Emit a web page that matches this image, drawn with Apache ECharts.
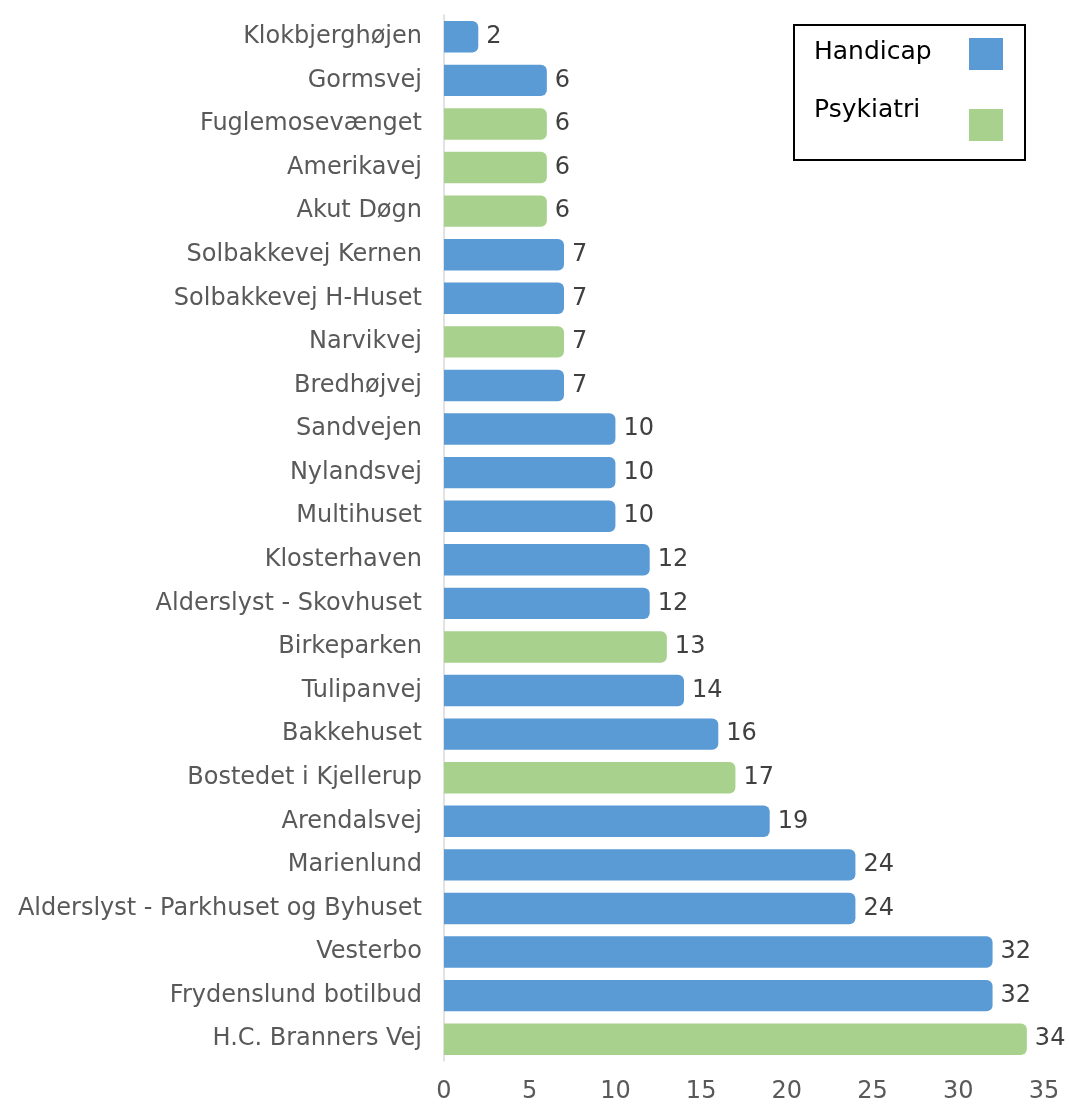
<!DOCTYPE html>
<html>
<head>
<meta charset="utf-8">
<script src="https://cdn.jsdelivr.net/npm/echarts@6/dist/echarts.min.js"></script>
<style>
html, body { margin: 0; padding: 0; background: #fff; }
#chart { width: 1069px; height: 1104px; }
</style>
</head>
<body>
<div id="chart"></div>
<script>
// kategorier oppefra og ned
var categories = ['Klokbjerghøjen', 'Gormsvej', 'Fuglemosevænget', 'Amerikavej', 'Akut Døgn',
    'Solbakkevej Kernen', 'Solbakkevej H-Huset', 'Narvikvej', 'Bredhøjvej', 'Sandvejen',
    'Nylandsvej', 'Multihuset', 'Klosterhaven', 'Alderslyst - Skovhuset', 'Birkeparken',
    'Tulipanvej', 'Bakkehuset', 'Bostedet i Kjellerup', 'Arendalsvej', 'Marienlund',
    'Alderslyst - Parkhuset og Byhuset', 'Vesterbo', 'Frydenslund botilbud', 'H.C. Branners Vej'];
var handicapValues = [2, 6, null, null, null, 7, 7, null, 7, 10, 10, 10, 12, 12, null, 14, 16, null, 19, 24, 24, 32, 32, null];
var psykiatriValues = [null, null, 6, 6, 6, null, null, 7, null, null, null, null, null, null, 13, null, null, 17, null, null, null, null, null, 34];
var xTicks = [0, 5, 10, 15, 20, 25, 30, 35];

var fontName = 'DejaVu Sans';
var colorHandicap = '#5b9bd5';
var colorPsykiatri = '#a9d18e';
var chart = echarts.init(document.getElementById('chart'));

function barSeries(name, values, color) {
    return {
        name: name,
        type: 'bar',
        stack: 'tilbud',
        data: values,
        barCategoryGap: '28%',
        itemStyle: {color: color, borderRadius: [0, 6, 6, 0]},
        label: {
            show: true,
            position: 'right',
            distance: 8,
            color: '#404040',
            fontFamily: fontName,
            fontSize: 24
        }
    };
}

// forklaring med ikon til hoejre for teksten
function legendEntry(name, color, textY, boxY) {
    return [
        {type: 'text', left: 814, top: textY - 11,
            style: {text: name, fill: '#000', font: '25px "' + fontName + '"'}},
        {type: 'rect', shape: {x: 969, y: boxY, width: 34, height: 32}, style: {fill: color}}
    ];
}

var option = {
    animation: false,
    backgroundColor: '#fff',
    grid: {left: 444, right: 25, top: 15, bottom: 43},
    graphic: [
        {type: 'rect', shape: {x: 794, y: 25, width: 231, height: 135},
            style: {fill: '#fff', stroke: '#000', lineWidth: 2}}
    ].concat(legendEntry('Handicap', colorHandicap, 51, 38))
     .concat(legendEntry('Psykiatri', colorPsykiatri, 109, 109)),
    xAxis: {
        type: 'value',
        min: xTicks[0],
        max: xTicks[xTicks.length - 1],
        interval: 5,
        splitLine: {show: false},
        axisLine: {show: false},
        axisTick: {show: false},
        axisLabel: {color: '#595959', fontFamily: fontName, fontSize: 24, margin: 19}
    },
    yAxis: {
        type: 'category',
        inverse: true,
        data: categories,
        axisLine: {show: true, lineStyle: {color: '#d9d9d9', width: 1.5}},
        axisTick: {show: false},
        axisLabel: {color: '#595959', fontFamily: fontName, fontSize: 24, margin: 22}
    },
    series: [
        barSeries('Handicap', handicapValues, colorHandicap),
        barSeries('Psykiatri', psykiatriValues, colorPsykiatri)
    ]
};
chart.setOption(option);
</script>
</body>
</html>
